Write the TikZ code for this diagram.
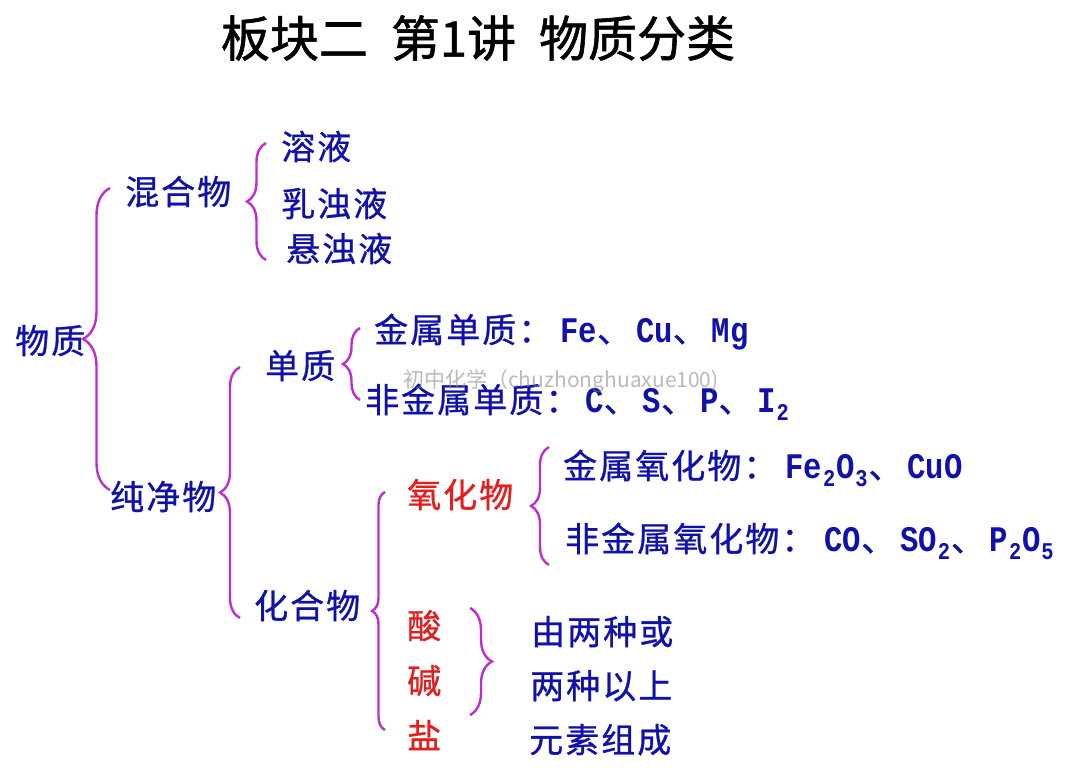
\documentclass[tikz,border=0pt]{standalone}
\usepackage{xcolor}
\usepackage{fontspec}
\usetikzlibrary{positioning,decorations.pathreplacing}
\setmainfont{Noto Sans CJK SC}[LetterSpace=6,FakeBold=0.8]
\newfontfamily\titlefont{Noto Sans CJK SC}[FakeBold=1.2]
\newfontfamily\markfont{Noto Sans CJK SC}
\newfontfamily\latfont{Liberation Mono}[FakeStretch=0.85]
\definecolor{termblue}{RGB}{16,16,170}
\definecolor{termred}{RGB}{226,30,30}
\definecolor{curlypink}{RGB}{190,45,205}
\newcommand{\lat}[1]{{\latfont\bfseries\fontsize{36}{36}\selectfont #1}}
\newcommand{\xb}[1]{\makebox[14pt]{\raisebox{-8pt}{\latfont\bfseries\fontsize{24}{24}\selectfont #1}}}
\newcommand{\dun}{、\hspace{5pt}}
\tikzset{
    term/.style = {anchor=west, inner sep=0pt, text=termblue, font=\fontsize{34}{34}\selectfont, text height=30pt, text depth=5pt},
    keyterm/.style = {term, text=termred},
    curly/.style = {draw=curlypink, line width=2.4pt, decorate, decoration={brace, amplitude=#1}},
    heading/.style = {anchor=center, inner sep=0pt, text=black, font=\titlefont\fontsize{49}{49}\selectfont},
    watermark/.style = {anchor=west, inner sep=0pt, text=gray, opacity=0.55, font=\markfont\fontsize{21}{21}\selectfont}
}

\begin{document}
\begin{tikzpicture}[x=1pt, y=-1pt, node distance=55pt]
\useasboundingbox (0,0) rectangle (1080,771);

\node (title) [heading] at (478,38) {板块二\hspace{23pt}第1讲\hspace{23pt}物质分类};

\node (wuzhi) [term] at (15,341) {物质};
\node (hunhe) [term] at (125,192) {混合物};
\node (rongye) [term] at (281,147) {溶液};
\node (ruzhuo) [term] at (281,204) {乳浊液};
\node (xuanzhuo) [term] at (286,249) {悬浊液};
\node (chun) [term] at (110,497) {纯净物};
\node (danzhi) [term] at (265,366) {单质};
\node (jindan) [term] at (374,330) {金属单质：\hspace{8pt}\lat{Fe}\dun\lat{Cu}\dun\lat{Mg}};
\node (feidan) [term] at (365,400) {非金属单质：\hspace{6pt}\lat{C}\dun\lat{S}\dun\lat{P}\dun\lat{I}\xb{2}};
\node (huahe) [term] at (254,606) {化合物};
\node (yang) [keyterm] at (407,495) {氧化物};
\node (jinyang) [term] at (563,466) {金属氧化物：\hspace{8pt}\lat{Fe}\xb{2}\lat{O}\xb{3}\dun\lat{CuO}};
\node (feiyang) [term] at (565,539) {非金属氧化物：\hspace{9pt}\lat{CO}\dun\lat{SO}\xb{2}\dun\lat{P}\xb{2}\lat{O}\xb{5}};
\node (suan) [keyterm] at (407,626) {酸};
\node (jian) [keyterm, below of=suan] {碱};
\node (yan) [keyterm, below of=jian] {盐};
\node (youliang) [term] at (531,632) {由两种或};
\node (liangzhong) [term] at (530,686) {两种以上};
\node (yuansu) [term] at (529,740) {元素组成};
\node (shuiyin) [watermark] at (403,381) {初中化学（chuzhonghuaxue100)};

\draw [curly=27pt] ([shift={(0,-7)}]chun.west) -- ([shift={(-15,-4)}]hunhe.west);
\draw [curly=19pt] ([shift={(-20,11)}]xuanzhuo.west) -- ([shift={(-15,-4)}]rongye.west);
\draw [curly=20pt] ([shift={(-14,12)}]huahe.west) -- ([shift={(-25,1)}]danzhi.west);
\draw [curly=17pt] ([shift={(-5,0)}]feidan.west) -- ([shift={(-14,-2)}]jindan.west);
\draw [curly=13pt] ([shift={(-22,-6)}]yan.west) -- ([shift={(-22,-3)}]yang.west);
\draw [curly=18pt] ([shift={(-16,26)}]feiyang.west) -- ([shift={(-14,-19)}]jinyang.west);
\draw [curly=22pt] ([shift={(63,-18)}]suan.west) -- ([shift={(63,-21)}]yan.west);
\end{tikzpicture}
\end{document}
